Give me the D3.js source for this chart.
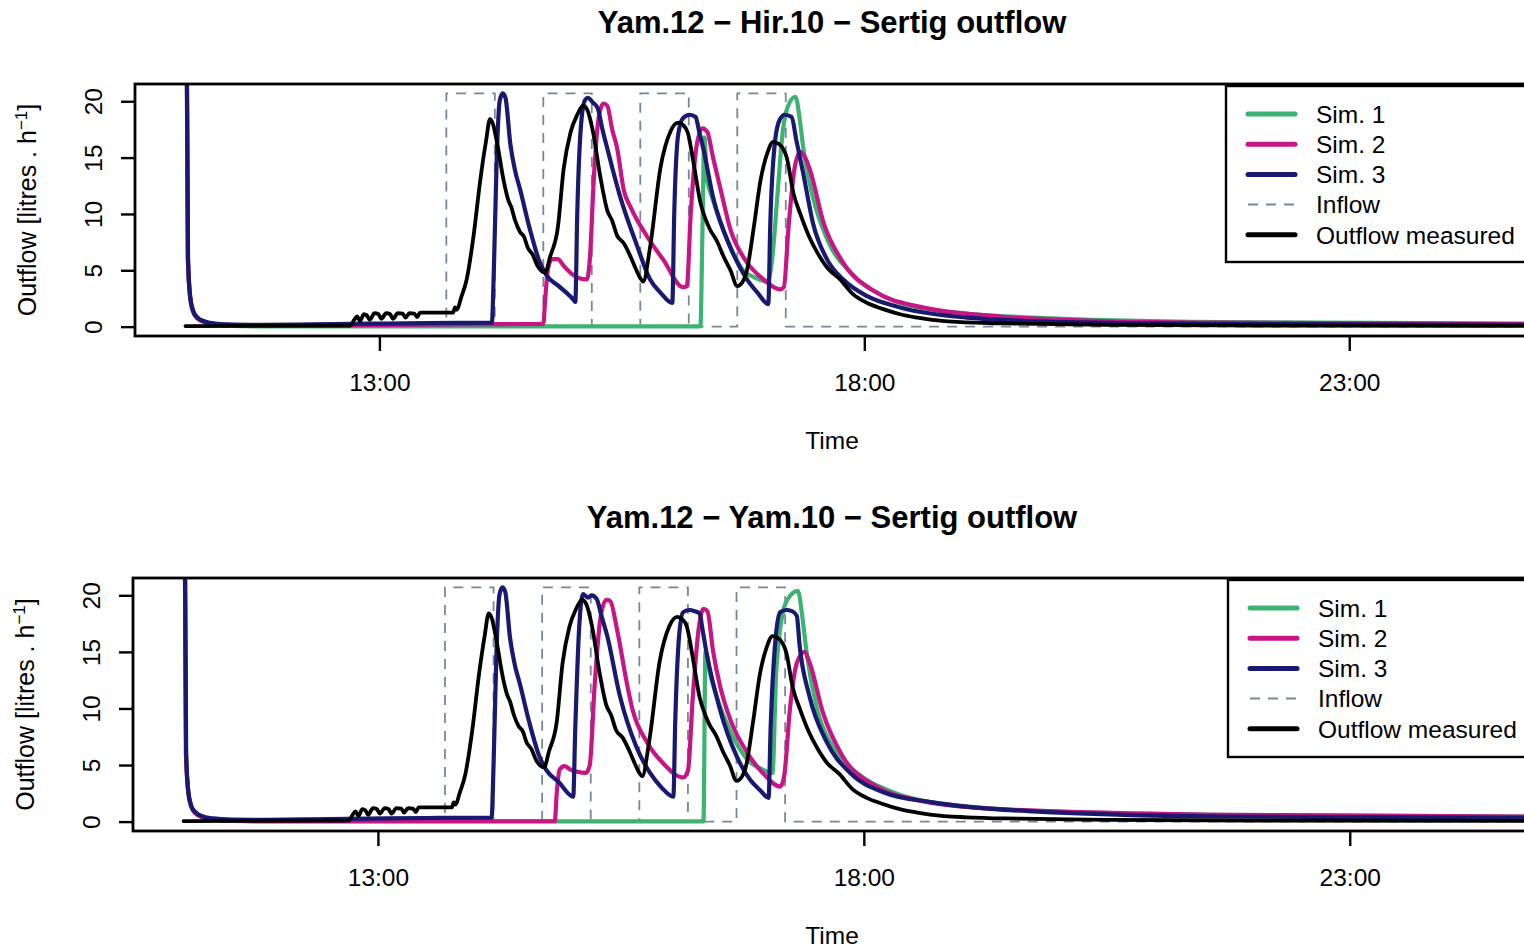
<!DOCTYPE html>
<html>
<head>
<meta charset="utf-8">
<script src="https://cdn.jsdelivr.net/npm/d3@7"></script>
<style>
  body { margin: 0; background: #fff; }
  svg { display: block; }
  text { font-family: "Liberation Sans", Arial, Helvetica, sans-serif; fill: #000; }
</style>
</head>
<body>
<svg id="chart" width="1524" height="951"></svg>
<script>
// Time is in decimal hours of the day, flow in litres per hour.
const xTickValues = [13, 18, 23];
const xTickLabels = ["13:00", "18:00", "23:00"];
const yTickValues = [0, 5, 10, 15, 20];
const seriesNames = ["Sim. 1", "Sim. 2", "Sim. 3", "Inflow", "Outflow measured"];
const panelTitles = ["Yam.12 \u2212 Hir.10 \u2212 Sertig outflow", "Yam.12 \u2212 Yam.10 \u2212 Sertig outflow"];

// Inflow pulses (step function, value holds until next point)
const inflow = [[11.0, 0], [13.69, 20.7], [14.19, 0], [14.69, 20.7], [15.19, 0], [15.69, 20.7],
  [16.19, 0], [16.69, 20.7], [17.19, 0], [25.4, 0]];

// Measured outflow
const measured = [[11.00, 0.05], [12.70, 0.1], [12.74, 0.6], [12.77, 0.9], [12.80, 0.5], [12.84, 1.1],
  [12.87, 1.0], [12.90, 0.6], [12.95, 1.2], [12.99, 1.1], [13.02, 0.7], [13.07, 1.2], [13.11, 1.1],
  [13.14, 0.7], [13.19, 1.2], [13.24, 1.15], [13.27, 0.8], [13.31, 1.2], [13.36, 1.15], [13.39, 0.85],
  [13.42, 1.25], [13.76, 1.25], [13.78, 1.7], [13.80, 1.5], [13.84, 2.5], [13.90, 4.2], [13.97, 8.0],
  [14.04, 13.0], [14.10, 16.5], [14.14, 18.4], [14.17, 18.0], [14.22, 16.0], [14.28, 13.0], [14.33, 11.2],
  [14.36, 10.6], [14.40, 9.4], [14.45, 8.4], [14.49, 8.0], [14.53, 7.0], [14.58, 6.4], [14.63, 5.4],
  [14.71, 4.8], [14.76, 6.2], [14.84, 8.8], [14.90, 14.0], [14.97, 17.2], [15.04, 18.8], [15.10, 19.6],
  [15.14, 19.3], [15.20, 17.4], [15.28, 13.2], [15.35, 10.3], [15.40, 9.4], [15.45, 8.1], [15.52, 7.4],
  [15.59, 6.2], [15.64, 5.2], [15.69, 4.3], [15.72, 4.0], [15.79, 7.0], [15.90, 14.2], [16.00, 17.3],
  [16.08, 18.1], [16.13, 17.9], [16.18, 17.2], [16.24, 14.5], [16.31, 11.0], [16.36, 9.6], [16.41, 8.6],
  [16.48, 7.6], [16.55, 6.2], [16.62, 5.0], [16.69, 3.6], [16.74, 3.9], [16.79, 5.0], [16.86, 8.8],
  [16.93, 13.0], [17.00, 15.4], [17.06, 16.4], [17.12, 16.2], [17.20, 15.0], [17.27, 11.8],
  [17.34, 10.0], [17.43, 8.0], [17.52, 6.5], [17.62, 5.2], [17.75, 4.2], [17.88, 2.9], [18.03, 2.1],
  [18.18, 1.6], [18.37, 1.1], [18.55, 0.8], [18.70, 0.6], [19.06, 0.38], [19.6, 0.26], [20.5, 0.16],
  [22.0, 0.1], [25.4, 0.06]];

// Yam.12 - Hir.10 simulations
const hirSim1 = [[11.00, 45], [11.025, 6], [11.05, 2.5], [11.08, 1.3], [11.12, 0.8], [11.2, 0.4],
  [11.3, 0.2], [11.5, 0.06], [11.8, 0.02], [16.31, 0.02], [16.33, 8], [16.35, 16.8], [16.38, 13.0],
  [16.43, 11.5], [16.52, 9.2], [16.65, 6.5], [16.75, 5.0], [16.86, 4.4], [17.00, 4.0], [17.05, 6],
  [17.10, 11.2], [17.16, 17.4], [17.21, 19.5], [17.29, 20.4], [17.34, 18.0], [17.37, 15.9],
  [17.47, 11.5], [17.62, 7.7], [17.86, 4.8], [18.20, 2.7], [18.71, 1.5], [19.74, 0.8], [21.67, 0.4],
  [25.4, 0.25]];
const hirSim2 = [[11.00, 45], [11.025, 6], [11.05, 2.5], [11.08, 1.3], [11.12, 0.75], [11.2, 0.4],
  [11.3, 0.25], [11.5, 0.14], [11.8, 0.1], [12.5, 0.12], [13.5, 0.18], [14.3, 0.22], [14.69, 0.25],
  [14.71, 2.5], [14.74, 5.2], [14.78, 6.0], [14.84, 6.0], [14.90, 5.4], [14.98, 4.7], [15.06, 4.3],
  [15.14, 4.2], [15.17, 6], [15.21, 13], [15.26, 18.5], [15.31, 19.8], [15.35, 19.6], [15.40, 17.5],
  [15.45, 15.9], [15.52, 12.1], [15.59, 10.6], [15.76, 8.0], [15.93, 5.9], [16.13, 3.5], [16.17, 3.6],
  [16.21, 10], [16.27, 16], [16.33, 17.6], [16.38, 17.3], [16.44, 15.0], [16.52, 12.1], [16.62, 8.6],
  [16.79, 5.7], [16.96, 4.2], [17.13, 3.3], [17.17, 3.5], [17.22, 9], [17.28, 14], [17.34, 15.5],
  [17.39, 15.0], [17.44, 13.9], [17.58, 9.2], [17.78, 5.7], [18.13, 3.0], [18.55, 1.8], [19.4, 0.9],
  [20.43, 0.5], [21.67, 0.35], [25.4, 0.2]];
const hirSim3 = [[11.00, 45], [11.027, 6], [11.05, 2.6], [11.08, 1.4], [11.12, 0.85], [11.2, 0.45],
  [11.3, 0.28], [11.5, 0.18], [11.8, 0.16], [12.3, 0.2], [12.9, 0.26], [13.5, 0.32], [14.16, 0.35],
  [14.18, 5], [14.21, 15], [14.24, 20.0], [14.27, 20.7], [14.30, 20.3], [14.35, 16.2], [14.40, 13.8],
  [14.45, 12.2], [14.55, 8.7], [14.65, 5.8], [14.72, 4.6], [14.85, 3.6], [15.00, 2.4], [15.02, 2.2],
  [15.04, 10], [15.08, 18], [15.12, 20.1], [15.15, 20.3], [15.20, 19.9], [15.25, 19.4], [15.30, 17.5],
  [15.35, 15.8], [15.48, 11.6], [15.66, 7.1], [15.79, 4.2], [15.90, 3.0], [16.02, 2.1], [16.04, 10],
  [16.08, 17], [16.13, 18.5], [16.20, 18.8], [16.26, 18.6], [16.30, 17.2], [16.34, 15.8], [16.44, 11.5],
  [16.62, 7.0], [16.79, 4.2], [16.90, 3.0], [17.01, 2.0], [17.03, 9], [17.08, 16.5], [17.13, 18.4],
  [17.18, 18.8], [17.25, 18.6], [17.30, 16.5], [17.37, 13.6], [17.47, 9.2], [17.62, 5.9], [17.78, 4.2],
  [18.03, 2.7], [18.37, 1.7], [19.06, 0.8], [20.09, 0.4], [21.67, 0.25], [25.4, 0.15]];

// Yam.12 - Yam.10 simulations
const yamSim1 = [[11.00, 45], [11.025, 6], [11.05, 2.5], [11.08, 1.3], [11.12, 0.8], [11.2, 0.4],
  [11.3, 0.2], [11.5, 0.06], [11.8, 0.02], [16.35, 0.02], [16.37, 15], [16.42, 13], [16.52, 10.2],
  [16.62, 8.1], [16.80, 5.5], [16.96, 4.6], [17.06, 4.3], [17.10, 13.5], [17.20, 19.4], [17.32, 20.4],
  [17.37, 17.9], [17.41, 15], [17.52, 9.9], [17.68, 6.6], [17.93, 4.3], [18.30, 2.6], [18.88, 1.5],
  [19.91, 0.9], [21.66, 0.6], [25.4, 0.4]];
const yamSim2 = [[11.00, 45], [11.025, 6], [11.05, 2.5], [11.08, 1.3], [11.12, 0.75], [11.2, 0.35],
  [11.3, 0.18], [11.5, 0.08], [11.8, 0.03], [14.82, 0.03], [14.84, 2.5], [14.87, 4.6], [14.92, 4.9],
  [14.98, 4.6], [15.05, 4.4], [15.14, 4.3], [15.18, 5], [15.23, 12], [15.29, 18], [15.35, 19.6],
  [15.39, 19.5], [15.46, 17], [15.56, 12.3], [15.62, 9.9], [15.77, 7.0], [15.93, 5.2], [16.14, 3.9],
  [16.19, 4.5], [16.24, 11], [16.30, 17], [16.35, 18.8], [16.39, 18.6], [16.45, 15], [16.52, 12],
  [16.59, 9.9], [16.80, 6.1], [16.96, 4.3], [17.14, 3.1], [17.18, 4], [17.24, 10], [17.31, 14],
  [17.39, 15], [17.44, 14.1], [17.58, 9.6], [17.78, 5.8], [18.13, 3.1], [18.55, 1.9], [19.4, 1.1],
  [21.66, 0.6], [25.4, 0.4]];
const yamSim3 = [[11.00, 45], [11.027, 6], [11.05, 2.6], [11.08, 1.4], [11.12, 0.85], [11.2, 0.45],
  [11.3, 0.28], [11.5, 0.18], [11.8, 0.16], [12.3, 0.2], [12.9, 0.26], [13.5, 0.32], [14.17, 0.35],
  [14.19, 5], [14.22, 15], [14.25, 20.0], [14.28, 20.7], [14.31, 20.3], [14.36, 16.2], [14.41, 13.8],
  [14.46, 12.2], [14.56, 8.7], [14.66, 5.8], [14.73, 4.6], [14.86, 3.5], [15.01, 2.2], [15.03, 8],
  [15.07, 17], [15.11, 20.1], [15.16, 19.8], [15.20, 20.0], [15.25, 19.7], [15.30, 18.2], [15.36, 16.4],
  [15.49, 11.1], [15.66, 6.6], [15.80, 4.3], [15.92, 3.0], [16.04, 2.2], [16.06, 9], [16.10, 16.5],
  [16.14, 18.5], [16.20, 18.7], [16.26, 18.6], [16.31, 18.4], [16.34, 17], [16.38, 15], [16.52, 9.9],
  [16.69, 5.8], [16.83, 3.7], [16.93, 2.8], [17.02, 2.1], [17.04, 8], [17.09, 16], [17.14, 18.5],
  [17.20, 18.7], [17.26, 18.6], [17.31, 18.2], [17.34, 15.5], [17.44, 11.1], [17.62, 7.0], [17.86, 4.3],
  [18.20, 2.6], [18.71, 1.7], [19.74, 0.9], [21.66, 0.45], [25.4, 0.3]];

const simColors = ["#3cb371", "#c71585", "#191970"];
const inflowColor = "#778899";

const panels = [
  { title: panelTitles[0], sims: [hirSim1, hirSim2, hirSim3],
    top: 84, bottom: 336, left: 135, right: 1582, titleY: 33, legendX: 1226, legendY: 86, legendH: 176 },
  { title: panelTitles[1], sims: [yamSim1, yamSim2, yamSim3],
    top: 578, bottom: 831, left: 133, right: 1583, titleY: 528, legendX: 1228, legendY: 580, legendH: 177 }
];

const svg = d3.select("#chart");
svg.append("rect").attr("width", 1524).attr("height", 951).attr("fill", "#fff");

panels.forEach((p, idx) => {
  const x = d3.scaleLinear().domain([10.48, 25.4]).range([p.left, p.right]);
  const y = d3.scaleLinear().domain([-0.83, 21.53]).range([p.bottom, p.top]);
  const g = svg.append("g");
  const clipId = "clip" + idx;
  g.append("clipPath").attr("id", clipId)
    .append("rect").attr("x", p.left).attr("y", p.top)
    .attr("width", p.right - p.left).attr("height", p.bottom - p.top);

  const line = d3.line().x(d => x(d[0])).y(d => y(d[1])).curve(d3.curveMonotoneX);
  const plot = g.append("g").attr("clip-path", `url(#${clipId})`);

  // inflow as dashed steps
  plot.append("path").datum(inflow)
    .attr("d", d3.line().x(d => x(d[0])).y(d => y(d[1])).curve(d3.curveStepAfter))
    .attr("fill", "none").attr("stroke", inflowColor).attr("stroke-width", 1.8)
    .attr("stroke-dasharray", "10,8");

  p.sims.forEach((s, i) => {
    plot.append("path").datum(s).attr("d", line)
      .attr("fill", "none").attr("stroke", simColors[i]).attr("stroke-width", 4.2)
      .attr("stroke-linejoin", "round").attr("stroke-linecap", "round");
  });

  plot.append("path").datum(measured).attr("d", line)
    .attr("fill", "none").attr("stroke", "#000").attr("stroke-width", 3.8)
    .attr("stroke-linejoin", "round").attr("stroke-linecap", "round");

  // frame
  g.append("rect").attr("x", p.left).attr("y", p.top)
    .attr("width", p.right - p.left).attr("height", p.bottom - p.top)
    .attr("fill", "none").attr("stroke", "#000").attr("stroke-width", 2.8);

  // y axis
  const yAxis = g.append("g").attr("transform", `translate(${p.left},0)`)
    .call(d3.axisLeft(y).tickValues(yTickValues).tickSize(14).tickFormat(d3.format("d")));
  yAxis.select(".domain").remove();
  yAxis.selectAll(".tick line").attr("stroke", "#000").attr("stroke-width", 2.4);
  yAxis.selectAll(".tick text")
    .attr("x", null).attr("dy", null).attr("y", null)
    .attr("transform", "translate(-33,0) rotate(-90)")
    .attr("text-anchor", "middle")
    .style("font-size", "24.5px").style("font-family", "'Liberation Sans', Arial, sans-serif").attr("fill", "#000");

  // x axis
  const xAxis = g.append("g").attr("transform", `translate(0,${p.bottom})`)
    .call(d3.axisBottom(x).tickValues(xTickValues).tickSize(15).tickFormat((d, i) => xTickLabels[i]));
  xAxis.select(".domain").remove();
  xAxis.selectAll(".tick line").attr("stroke", "#000").attr("stroke-width", 2.4);
  xAxis.selectAll(".tick text").attr("y", 55).attr("dy", null)
    .style("font-size", "24.5px").style("font-family", "'Liberation Sans', Arial, sans-serif").attr("fill", "#000");

  // titles
  g.append("text").attr("x", 832).attr("y", p.titleY).attr("text-anchor", "middle")
    .style("font-size", "31px").style("font-weight", "bold").text(p.title);
  g.append("text").attr("x", 832).attr("y", p.bottom + 113).attr("text-anchor", "middle")
    .style("font-size", "24.5px").text("Time");
  const yl = g.append("text")
    .attr("transform", `translate(${p.left - 99},${(p.top + p.bottom) / 2}) rotate(-90)`)
    .attr("text-anchor", "middle").style("font-size", "25px");
  yl.append("tspan").text("Outflow [litres . h");
  yl.append("tspan").attr("dy", -9).style("font-size", "17px").text("\u22121");
  yl.append("tspan").attr("dy", 9).text("]");

  // legend
  const lg = g.append("g");
  lg.append("rect").attr("x", p.legendX).attr("y", p.legendY)
    .attr("width", 1600 - p.legendX).attr("height", p.legendH)
    .attr("fill", "#fff").attr("stroke", "#000").attr("stroke-width", 2.4);
  const legendColors = [simColors[0], simColors[1], simColors[2], inflowColor, "#000"];
  seriesNames.forEach((name, i) => {
    const ry = p.legendY + 28 + i * 30.2;
    const isInflow = name === "Inflow";
    lg.append("line").attr("x1", p.legendX + 22).attr("x2", p.legendX + 69)
      .attr("y1", ry).attr("y2", ry)
      .attr("stroke", legendColors[i]).attr("stroke-width", isInflow ? 2 : 5)
      .attr("stroke-linecap", isInflow ? "butt" : "round")
      .attr("stroke-dasharray", isInflow ? "10,8" : null);
    lg.append("text").attr("x", p.legendX + 90).attr("y", ry + 8.8)
      .style("font-size", "24.5px").text(name);
  });
});
</script>
</body>
</html>
